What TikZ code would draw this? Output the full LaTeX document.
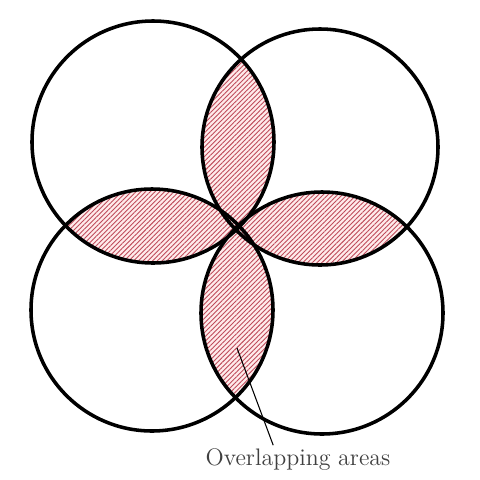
\documentclass[tikz,border=0pt]{standalone}
\usepackage{tikz}
\usetikzlibrary{patterns.meta, positioning}
\definecolor{hatchred}{RGB}{190,75,90}
\tikzset{
  ring/.style={
    circle, draw=black, line width=2pt, inner sep=0pt
  },
  overlap/.style={
    preaction={fill=red!8},
    pattern={Lines[angle=45, distance=1.9pt, line width=0.5pt]},
    pattern color=hatchred
  },
  leader/.style={
    line width=0.6pt, color=black
  }
}

\begin{document}
\begin{tikzpicture}[x=0.565pt, y=-0.565pt]
\useasboundingbox (0,0) rectangle (479,480);

\coordinate (ctl) at (153,142);
\coordinate (ctr) at (320,147);
\coordinate (cbl) at (152,310);
\coordinate (cbr) at (322,313);

% hatched overlaps
\begin{scope}
  \clip (ctl) circle[radius=121];
  \fill[overlap] (ctr) circle[radius=118];
  \fill[overlap] (cbl) circle[radius=121];
\end{scope}
\begin{scope}
  \clip (cbr) circle[radius=121];
  \fill[overlap] (ctr) circle[radius=118];
  \fill[overlap] (cbl) circle[radius=121];
\end{scope}

\node[ring, minimum size=242*0.565pt] (tl) at (ctl) {};
\node[ring, minimum size=236*0.565pt] (tr) at (ctr) {};
\node[ring, minimum size=242*0.565pt] (bl) at (cbl) {};
\node[ring, minimum size=242*0.565pt] (br) at (cbr) {};

\node[text=black!75, font=\fontsize{13.5}{16}\selectfont, inner sep=2pt] (label) at (298,460) {Overlapping areas};
\coordinate (tip) at (237,348);
\draw[leader] (tip) -- ([xshift=-14pt]label.north);

\end{tikzpicture}
\end{document}
